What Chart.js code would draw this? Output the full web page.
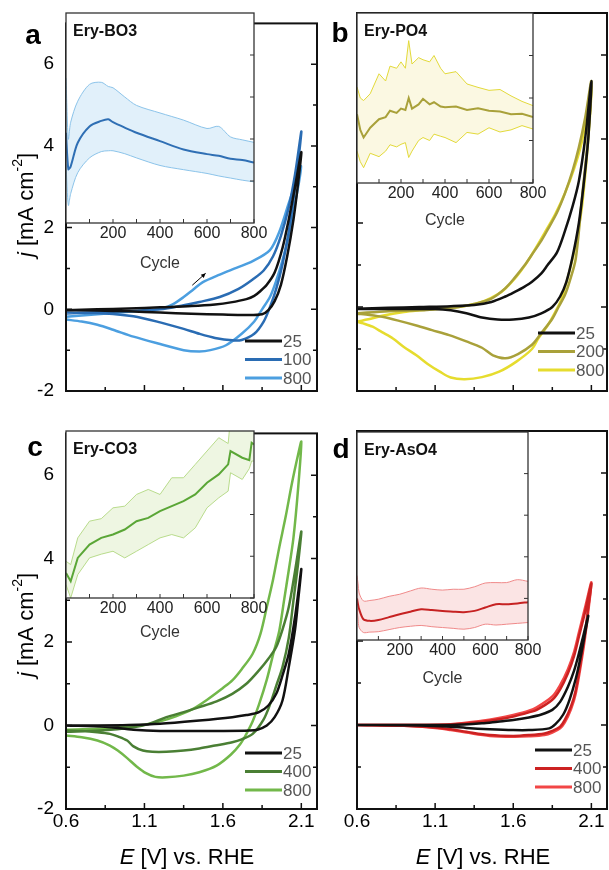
<!DOCTYPE html>
<html>
<head>
<meta charset="utf-8">
<script src="https://cdn.jsdelivr.net/npm/chart.js@4"></script>
<style>
  body { margin: 0; background: #fff; width: 609px; height: 870px; position: relative; overflow: hidden; }
  canvas { position: absolute; }
</style>
</head>
<body>
<canvas id="mainA" width="322" height="420" style="left:0;top:0"></canvas>
<canvas id="mainB" width="291" height="420" style="left:318px;top:0"></canvas>
<canvas id="mainC" width="322" height="460" style="left:0;top:410px"></canvas>
<canvas id="mainD" width="291" height="460" style="left:318px;top:410px"></canvas>
<canvas id="insetA" width="222" height="268" style="left:56px;top:5px"></canvas>
<canvas id="insetB" width="208" height="225" style="left:347px;top:5px"></canvas>
<canvas id="insetC" width="222" height="219" style="left:56px;top:423px"></canvas>
<canvas id="insetD" width="208" height="264" style="left:347px;top:424px"></canvas>
<script>
// axis ticks
const xMajor = [0.6, 1.1, 1.6, 2.1];
const xMinor = [0.85, 1.35, 1.85];
const yMajor = [-2, 0, 2, 4, 6];
const yMinor = [-1, 1, 3, 5];
const cycMajor = [200, 400, 600, 800];
const cycMinor = [100, 300, 500, 700];

// ---- a: Ery-BO3 ----
const a25E = [0.6,0.8,1.0,1.2,1.4,1.55,1.65,1.75,1.8,1.84,1.88,1.93,1.98,2.02,2.06,2.1, 2.08,2.05,2.01,1.97,1.93,1.89,1.85,1.75,1.6,1.4,1.2,1.0,0.8,0.6];
const a25J = [-0.02,0,0.02,0.05,0.08,0.12,0.17,0.25,0.33,0.45,0.6,0.9,1.5,2.2,3.0,3.85, 3.1,2.2,1.3,0.6,0.2,-0.02,-0.12,-0.14,-0.13,-0.11,-0.08,-0.05,-0.03,-0.02];
const a100E = [0.6,0.8,1.0,1.2,1.35,1.45,1.58,1.7,1.79,1.86,1.92,1.97,2.02,2.06,2.1, 2.08,2.05,2.02,1.98,1.94,1.9,1.86,1.8,1.72,1.66,1.55,1.45,1.35,1.2,1.03,0.85,0.6];
const a100J = [-0.1,-0.07,-0.04,0,0.1,0.18,0.3,0.5,0.73,0.95,1.3,1.8,2.5,3.3,4.35, 3.6,2.7,1.9,1.1,0.5,0.05,-0.3,-0.6,-0.75,-0.76,-0.7,-0.6,-0.48,-0.32,-0.17,-0.1,-0.08];
const a800E = [0.6,0.8,1.0,1.15,1.22,1.28,1.35,1.41,1.47,1.58,1.69,1.79,1.9,1.96,2.02,2.06,2.1, 2.08,2.05,2.02,1.98,1.94,1.9,1.85,1.8,1.72,1.62,1.52,1.45,1.35,1.2,1.03,0.9,0.8,0.7,0.6];
const a800J = [-0.18,-0.12,-0.06,-0.02,0.03,0.12,0.3,0.48,0.66,0.85,1.02,1.18,1.45,1.9,2.6,3.05,3.5, 3.0,2.4,1.8,1.2,0.7,0.3,0,-0.3,-0.6,-0.88,-1.0,-1.03,-1.0,-0.85,-0.67,-0.5,-0.38,-0.3,-0.25];
const aCyc = [0,10,20,50,100,150,180,200,250,300,400,500,600,650,700,750,800];
const aMean = [4.15,3.28,3.35,3.91,4.3,4.43,4.47,4.4,4.27,4.15,3.95,3.75,3.64,3.6,3.53,3.5,3.44];
const aUpper = [5.45,4.0,4.4,4.9,5.3,5.35,5.25,5.22,5.0,4.8,4.62,4.45,4.25,4.3,4.05,3.98,3.92];
const aLower = [3.4,2.42,2.7,3.2,3.55,3.7,3.72,3.72,3.65,3.55,3.37,3.27,3.18,3.12,3.07,3.02,2.98];

// ---- b: Ery-PO4 ----
const b25E = [0.6,0.8,1.0,1.2,1.35,1.46,1.55,1.61,1.67,1.72,1.78,1.82,1.88,1.93,1.98,2.02,2.06,2.1, 2.08,2.05,2.02,1.98,1.94,1.9,1.85,1.78,1.7,1.6,1.5,1.4,1.3,1.2,1.1,0.9,0.6];
const b25J = [-0.04,-0.02,0,0.02,0.05,0.12,0.25,0.36,0.48,0.6,0.8,1.0,1.3,1.8,2.4,3.0,4.0,5.38, 4.0,2.9,2.0,1.2,0.6,0.25,0.0,-0.15,-0.25,-0.3,-0.3,-0.25,-0.15,-0.08,-0.05,-0.05,-0.05];
const b200E = [0.6,0.8,1.0,1.15,1.25,1.35,1.46,1.55,1.61,1.67,1.72,1.78,1.82,1.88,1.93,1.98,2.02,2.06,2.1, 2.08,2.04,2.0,1.96,1.93,1.89,1.85,1.78,1.72,1.63,1.55,1.47,1.4,1.3,1.19,1.08,0.98,0.87,0.77,0.68,0.6];
const b200J = [-0.15,-0.1,-0.08,-0.04,0,0.07,0.2,0.45,0.7,0.98,1.25,1.58,1.84,2.25,2.7,3.25,3.8,4.5,5.38, 4.1,2.6,1.15,0.6,0.28,0.0,-0.28,-0.62,-0.9,-1.12,-1.22,-1.15,-0.97,-0.82,-0.67,-0.55,-0.44,-0.33,-0.24,-0.19,-0.16];
const b800E = [0.6,0.7,0.77,0.9,1.0,1.12,1.25,1.35,1.42,1.5,1.55,1.62,1.68,1.74,1.8,1.87,1.93,1.99,2.04,2.07,2.1, 2.08,2.04,2.0,1.97,1.91,1.86,1.82,1.76,1.72,1.62,1.51,1.4,1.29,1.2,1.13,1.05,0.98,0.9,0.83,0.76,0.7,0.64,0.6];
const b800J = [-0.35,-0.27,-0.2,-0.12,-0.08,-0.04,0,0.07,0.15,0.3,0.44,0.72,1.02,1.38,1.76,2.22,2.7,3.3,3.95,4.6,5.25, 4.0,2.4,1.5,1.0,0.2,-0.18,-0.44,-0.75,-1.0,-1.3,-1.54,-1.67,-1.72,-1.68,-1.54,-1.35,-1.15,-0.95,-0.75,-0.6,-0.47,-0.39,-0.35];
const bCyc = [0,15,30,60,100,130,150,180,200,220,235,250,280,300,330,350,380,400,450,500,550,600,650,700,750,800];
const bMean = [4.62,4.25,4.07,4.3,4.5,4.55,4.7,4.65,4.75,4.72,5.0,4.75,4.85,4.98,4.85,4.9,4.8,4.78,4.8,4.72,4.76,4.7,4.68,4.62,4.63,4.55];
const bUpper = [5.26,5.0,4.94,5.1,5.57,5.4,5.75,5.7,5.85,5.7,6.35,5.8,5.95,5.9,5.85,6.0,5.7,5.57,5.62,5.33,5.25,5.18,5.2,5.05,4.92,4.82];
const bLower = [3.75,3.5,3.36,3.7,3.62,3.75,3.9,3.85,3.91,3.95,3.6,3.75,4.0,4.07,4.0,4.15,4.1,4.07,3.95,4.19,4.15,4.3,4.2,4.25,4.35,4.27];

// ---- c: Ery-CO3 ----
const c25E = [0.6,0.8,1.0,1.2,1.45,1.66,1.75,1.83,1.89,1.94,1.98,2.02,2.06,2.1, 2.08,2.06,2.02,1.98,1.93,1.88,1.82,1.77,1.6,1.4,1.2,1.03,0.85,0.6];
const c25J = [0,0,0.01,0.04,0.12,0.2,0.25,0.32,0.48,0.76,1.2,1.72,2.6,3.75, 3.0,2.3,1.4,0.6,0.2,0.0,-0.1,-0.12,-0.13,-0.13,-0.13,-0.1,-0.03,0];
const c400E = [0.6,0.82,1.03,1.13,1.24,1.35,1.45,1.56,1.66,1.75,1.83,1.89,1.94,1.98,2.02,2.06,2.1, 2.08,2.05,2.02,1.98,1.94,1.9,1.86,1.79,1.72,1.66,1.55,1.45,1.35,1.24,1.15,1.09,1.03,0.99,0.93,0.88,0.8,0.7,0.6];
const c400J = [-0.15,-0.12,-0.04,0.04,0.2,0.32,0.44,0.58,0.76,1.0,1.32,1.6,1.88,2.3,2.84,3.7,4.65, 3.9,3.0,2.1,1.4,0.95,0.5,0.15,-0.2,-0.33,-0.4,-0.48,-0.55,-0.6,-0.63,-0.63,-0.6,-0.5,-0.36,-0.26,-0.2,-0.16,-0.13,-0.12];
const c800E = [0.6,0.8,1.0,1.1,1.2,1.3,1.4,1.5,1.6,1.66,1.72,1.79,1.84,1.88,1.92,1.96,2.0,2.04,2.08,2.1, 2.08,2.05,2.02,1.99,1.96,1.92,1.88,1.83,1.79,1.75,1.71,1.65,1.56,1.45,1.35,1.24,1.17,1.11,1.05,0.99,0.93,0.88,0.8,0.7,0.6];
const c800J = [-0.1,-0.08,-0.02,0.02,0.1,0.22,0.38,0.62,0.9,1.08,1.35,1.72,2.2,2.84,3.5,4.28,5.0,5.8,6.5,6.8, 5.7,4.5,3.72,3.0,2.28,1.7,1.1,0.5,0.1,-0.2,-0.45,-0.7,-0.96,-1.12,-1.2,-1.24,-1.23,-1.14,-0.98,-0.78,-0.6,-0.48,-0.36,-0.28,-0.24];
const cCyc = [0,20,50,100,150,200,250,300,350,400,450,500,550,600,650,690,700,750,780,790,800];
const cMean = [3.6,3.4,3.96,4.28,4.44,4.52,4.64,4.84,4.92,5.08,5.2,5.32,5.48,5.76,5.96,6.2,6.52,6.36,6.3,6.72,6.68];
const cUpper = [3.88,3.8,4.44,4.84,4.9,5.16,5.2,5.48,5.6,5.48,5.88,5.88,6.2,6.52,6.84,6.7,7.3,7.3,7.3,7.3,7.3];
const cLower = [3.32,3.0,3.56,3.96,4.05,4.12,3.96,4.12,4.28,4.44,4.52,4.44,4.68,5.16,5.4,5.56,6.0,5.84,6.1,6.28,6.28];

// ---- d: Ery-AsO4 ----
const d25E = [0.6,0.9,1.2,1.4,1.5,1.6,1.7,1.78,1.85,1.9,1.95,1.99,2.02,2.05,2.08, 2.06,2.03,2.0,1.96,1.92,1.87,1.83,1.7,1.6,1.45,1.3,1.2,1.0,0.6];
const d25J = [0,0,0,0.04,0.08,0.12,0.18,0.25,0.36,0.55,0.91,1.3,1.7,2.15,2.6, 2.2,1.6,1.1,0.6,0.25,0.02,-0.08,-0.12,-0.12,-0.1,-0.07,-0.04,-0.01,0];
const d400E = [0.6,0.9,1.2,1.4,1.5,1.6,1.7,1.75,1.85,1.9,1.95,1.99,2.02,2.06,2.1, 2.08,2.06,2.04,2.0,1.97,1.93,1.9,1.85,1.8,1.7,1.6,1.45,1.3,1.2,1.1,0.9,0.6];
const d400J = [0,0,0.01,0.08,0.13,0.2,0.3,0.36,0.6,0.85,1.23,1.65,2.1,2.7,3.37, 2.8,2.2,1.7,0.83,0.45,0.12,-0.04,-0.14,-0.2,-0.24,-0.26,-0.24,-0.16,-0.1,-0.06,-0.02,0];
const d800E = [0.6,0.9,1.2,1.4,1.5,1.6,1.7,1.75,1.85,1.9,1.95,1.99,2.02,2.06,2.1, 2.08,2.06,2.04,2.0,1.97,1.93,1.9,1.85,1.8,1.7,1.6,1.45,1.3,1.2,1.1,0.9,0.6];
const d800J = [0,0,0.02,0.1,0.16,0.24,0.34,0.42,0.68,0.95,1.33,1.75,2.2,2.8,3.4, 2.7,2.1,1.6,0.75,0.38,0.06,-0.08,-0.18,-0.24,-0.27,-0.28,-0.26,-0.18,-0.12,-0.07,-0.02,0];
const dCyc = [0,5,10,30,60,100,150,200,250,300,350,400,450,500,550,600,650,700,750,800];
const dMean = [3.0,2.85,2.74,2.5,2.46,2.48,2.55,2.62,2.68,2.74,2.72,2.7,2.68,2.67,2.7,2.78,2.86,2.86,2.88,2.91];
const dUpper = [3.55,3.35,3.13,2.94,2.95,2.98,3.05,3.1,3.18,3.25,3.22,3.2,3.22,3.22,3.28,3.37,3.38,3.38,3.45,3.41];
const dLower = [2.75,2.5,2.3,2.18,2.19,2.2,2.25,2.3,2.33,2.35,2.32,2.3,2.28,2.26,2.3,2.38,2.36,2.38,2.4,2.42];

// little arrow in panel a (E, j of tail and head)
const arrowA = [[1.405, 0.59], [1.49, 0.88]];

const FONT = "'Liberation Sans', Arial, sans-serif";

function pts(xs, ys) {
    return xs.map((x, i) => ({ x: x, y: ys[i] }));
}

// draws text parts (italic / superscript) centred on x,y
function drawRich(ctx, parts, x, y, size, rot) {
    ctx.save();
    ctx.translate(x, y);
    ctx.rotate(rot);
    ctx.textBaseline = 'middle';
    ctx.textAlign = 'left';
    const fontOf = p => (p.it ? 'italic ' : '') + (p.sup ? Math.round(size * 0.62) : size) + 'px ' + FONT;
    let w = 0;
    parts.forEach(p => { ctx.font = fontOf(p); w += ctx.measureText(p.t).width; });
    let cx = -w / 2;
    parts.forEach(p => {
        ctx.font = fontOf(p);
        ctx.fillText(p.t, cx, p.sup ? -size * 0.38 : 0);
        cx += ctx.measureText(p.t).width;
    });
    ctx.restore();
}

const framePlugin = {
    id: 'frame',
    beforeDraw(chart, args, o) {
        if (!o.white) return;
        const a = chart.chartArea;
        chart.ctx.save();
        chart.ctx.fillStyle = '#fff';
        chart.ctx.fillRect(a.left, a.top, a.width, a.height);
        chart.ctx.restore();
    },
    afterDraw(chart, args, o) {
        const { ctx, chartArea: a, scales: { x, y } } = chart;
        ctx.save();
        ctx.strokeStyle = o.frameColor;
        ctx.lineWidth = o.frameWidth;
        ctx.strokeRect(a.left, a.top, a.width, a.height);

        // inward tick marks
        ctx.lineWidth = o.tickWidth;
        ctx.beginPath();
        o.xTicks.forEach(([vals, len]) => vals.forEach(v => {
            const px = x.getPixelForValue(v);
            ctx.moveTo(px, a.bottom); ctx.lineTo(px, a.bottom - len);
        }));
        o.yTicks.forEach(([vals, len]) => vals.forEach(v => {
            const py = y.getPixelForValue(v);
            if (o.leftTicks) { ctx.moveTo(a.left, py); ctx.lineTo(a.left + len, py); }
            ctx.moveTo(a.right, py); ctx.lineTo(a.right - len, py);
        }));
        ctx.stroke();

        ctx.fillStyle = '#000';
        if (o.letter) {
            ctx.font = 'bold 28px ' + FONT;
            ctx.textAlign = 'center';
            ctx.textBaseline = 'middle';
            ctx.fillText(o.letter[0], o.letter[1], o.letter[2]);
        }
        if (o.name) {
            ctx.font = 'bold 16px ' + FONT;
            ctx.fillStyle = '#111';
            ctx.textAlign = 'left';
            ctx.textBaseline = 'middle';
            ctx.fillText(o.name, a.left + 7, a.top + 19);
        }
        if (o.yTitle) {
            drawRich(ctx, [{ t: 'j', it: true }, { t: ' [mA cm' }, { t: '-2', sup: true }, { t: ']' }],
                o.yTitle[0], o.yTitle[1], 22, -Math.PI / 2);
        }
        if (o.xTitle) {
            drawRich(ctx, [{ t: 'E', it: true }, { t: ' [V] vs. RHE' }], o.xTitle[0], o.xTitle[1], 22, 0);
        }
        if (o.legend) {
            const [lx, ly] = o.legend;
            chart.data.datasets.forEach((ds, i) => {
                const yy = ly + i * 18.5;
                ctx.strokeStyle = ds.borderColor;
                ctx.lineWidth = 3;
                ctx.beginPath();
                ctx.moveTo(lx, yy); ctx.lineTo(lx + 37, yy);
                ctx.stroke();
                ctx.fillStyle = '#555';
                ctx.font = '17px ' + FONT;
                ctx.textAlign = 'left';
                ctx.textBaseline = 'middle';
                ctx.fillText(ds.label, lx + 38, yy + 1);
            });
        }
        if (o.arrow) {
            const x0 = x.getPixelForValue(o.arrow[0][0]), y0 = y.getPixelForValue(o.arrow[0][1]);
            const x1 = x.getPixelForValue(o.arrow[1][0]), y1 = y.getPixelForValue(o.arrow[1][1]);
            const ang = Math.atan2(y1 - y0, x1 - x0);
            ctx.strokeStyle = '#000';
            ctx.fillStyle = '#000';
            ctx.lineWidth = 1;
            ctx.beginPath();
            ctx.moveTo(x0, y0); ctx.lineTo(x1, y1);
            ctx.stroke();
            ctx.beginPath();
            ctx.moveTo(x1, y1);
            ctx.lineTo(x1 - 5 * Math.cos(ang - 0.45), y1 - 5 * Math.sin(ang - 0.45));
            ctx.lineTo(x1 - 5 * Math.cos(ang + 0.45), y1 - 5 * Math.sin(ang + 0.45));
            ctx.closePath();
            ctx.fill();
        }
        ctx.restore();
    }
};

// main CV panel
function mainChart(id, p) {
    const c = document.getElementById(id);
    return new Chart(c, {
        type: 'line',
        data: {
            datasets: p.series.map(s => ({
                label: s[0], data: pts(s[1], s[2]), borderColor: s[3],
                borderWidth: 2.5, pointRadius: 0, tension: 0.3, fill: false
            }))
        },
        options: {
            responsive: false,
            animation: false,
            events: [],
            layout: { padding: { left: 0, top: p.area[1], right: c.width - p.area[2], bottom: 0 } },
            plugins: {
                legend: { display: false },
                tooltip: { enabled: false },
                frame: {
                    frameColor: '#111', frameWidth: 2, tickWidth: 1.5, leftTicks: true,
                    xTicks: [[xMajor, 6], [xMinor, 4]], yTicks: [[yMajor, 6], [yMinor, 4]],
                    letter: p.letter, yTitle: p.yTitle, xTitle: p.xTitle, legend: p.legend, arrow: p.arrow
                }
            },
            scales: {
                x: {
                    type: 'linear', min: 0.6, max: 2.2,
                    grid: { display: false, drawTicks: false }, border: { display: false },
                    afterBuildTicks: s => { s.ticks = xMajor.map(v => ({ value: v })); },
                    afterFit: s => { s.height = c.height - p.area[3]; },
                    ticks: {
                        display: p.xLabels, autoSkip: false, maxRotation: 0, padding: 1, color: '#000',
                        font: { family: FONT, size: 19 }, callback: v => v.toFixed(1)
                    }
                },
                y: {
                    type: 'linear', min: -2, max: 7,
                    grid: { display: false, drawTicks: false }, border: { display: false },
                    afterBuildTicks: s => { s.ticks = yMajor.map(v => ({ value: v })); },
                    afterFit: s => { s.width = p.area[0]; },
                    ticks: {
                        display: p.yLabels, autoSkip: false, padding: 12, color: '#000',
                        font: { family: FONT, size: 19 }, callback: v => String(v)
                    }
                }
            }
        },
        plugins: [framePlugin]
    });
}

// cycle inset with mean line and +/- band (mean first so it is drawn on top)
function insetChart(id, p) {
    const c = document.getElementById(id);
    return new Chart(c, {
        type: 'line',
        data: {
            datasets: [
                { data: pts(p.cyc, p.mean), borderColor: p.color, borderWidth: 2, pointRadius: 0, tension: p.tension, fill: false },
                { data: pts(p.cyc, p.up), borderColor: p.band, borderWidth: 1, pointRadius: 0, tension: p.tension, fill: false },
                { data: pts(p.cyc, p.lo), borderColor: p.band, borderWidth: 1, pointRadius: 0, tension: p.tension, fill: 1, backgroundColor: p.fill }
            ]
        },
        options: {
            responsive: false,
            animation: false,
            events: [],
            layout: { padding: { left: 0, top: p.area[1], right: c.width - p.area[2], bottom: 0 } },
            plugins: {
                legend: { display: false },
                tooltip: { enabled: false },
                filler: { drawTime: 'beforeDatasetsDraw' },
                frame: {
                    white: true, frameColor: '#333', frameWidth: 1.3, tickWidth: 1, leftTicks: false,
                    xTicks: [[cycMajor, 4], [cycMinor, 4]], yTicks: [[[3, 4, 5, 6], 4]], name: p.name
                }
            },
            scales: {
                x: {
                    type: 'linear', min: 0, max: 800,
                    grid: { display: false, drawTicks: false }, border: { display: false },
                    afterBuildTicks: s => { s.ticks = cycMajor.map(v => ({ value: v })); },
                    afterFit: s => { s.height = c.height - p.area[3]; },
                    ticks: { autoSkip: false, maxRotation: 0, padding: 1, color: '#222', font: { family: FONT, size: 16 } },
                    title: { display: true, text: 'Cycle', color: '#333', font: { family: FONT, size: 16 }, padding: 0 }
                },
                y: {
                    type: 'linear', min: p.yMin, max: 7,
                    grid: { display: false, drawTicks: false }, border: { display: false },
                    afterFit: s => { s.width = p.area[0]; },
                    ticks: { display: false }
                }
            }
        },
        plugins: [framePlugin]
    });
}

mainChart('mainA', {
    area: [66, 13, 317, 391], xLabels: false, yLabels: true,
    letter: ['a', 33, 36], yTitle: [27, 205], legend: [245, 341], arrow: arrowA,
    series: [['25', a25E, a25J, '#111111'], ['100', a100E, a100J, '#2a6cb3'], ['800', a800E, a800J, '#4c9fe0']]
});
mainChart('mainB', {
    area: [39, 13, 289, 391], xLabels: false, yLabels: false,
    letter: ['b', 22, 34], legend: [220, 333],
    series: [['25', b25E, b25J, '#111111'], ['200', b200E, b200J, '#a9a13a'], ['800', b800E, b800J, '#e6dc2e']]
});
mainChart('mainC', {
    area: [66, 20, 317, 399], xLabels: true, yLabels: true,
    letter: ['c', 35, 38], yTitle: [27, 215], xTitle: [187, 448], legend: [245, 343],
    series: [['25', c25E, c25J, '#111111'], ['400', c400E, c400J, '#4a7f34'], ['800', c800E, c800J, '#72b84a']]
});
mainChart('mainD', {
    area: [39, 21, 289, 399], xLabels: true, yLabels: false,
    letter: ['d', 23, 40], xTitle: [165, 448], legend: [217, 340],
    series: [['25', d25E, d25J, '#111111'], ['400', d400E, d400J, '#cc2222'], ['800', d800E, d800J, '#f24646']]
});

insetChart('insetA', {
    area: [10, 8, 198, 218], yMin: 2, tension: 0.3, name: 'Ery-BO3',
    cyc: aCyc, mean: aMean, up: aUpper, lo: aLower,
    color: '#2f6fb4', band: '#8cc4ea', fill: '#e1f0fa'
});
insetChart('insetB', {
    area: [10, 8, 186, 178], yMin: 3, tension: 0, name: 'Ery-PO4',
    cyc: bCyc, mean: bMean, up: bUpper, lo: bLower,
    color: '#a9a13a', band: '#e3da3a', fill: '#fbf8e2'
});
insetChart('insetC', {
    area: [10, 8, 198, 175], yMin: 3, tension: 0, name: 'Ery-CO3',
    cyc: cCyc, mean: cMean, up: cUpper, lo: cLower,
    color: '#5aa636', band: '#b9dc8c', fill: '#eef6e2'
});
insetChart('insetD', {
    area: [10, 8, 181, 216], yMin: 2, tension: 0.3, name: 'Ery-AsO4',
    cyc: dCyc, mean: dMean, up: dUpper, lo: dLower,
    color: '#c62222', band: '#f08a8a', fill: '#fbe4e4'
});
</script>
</body>
</html>
